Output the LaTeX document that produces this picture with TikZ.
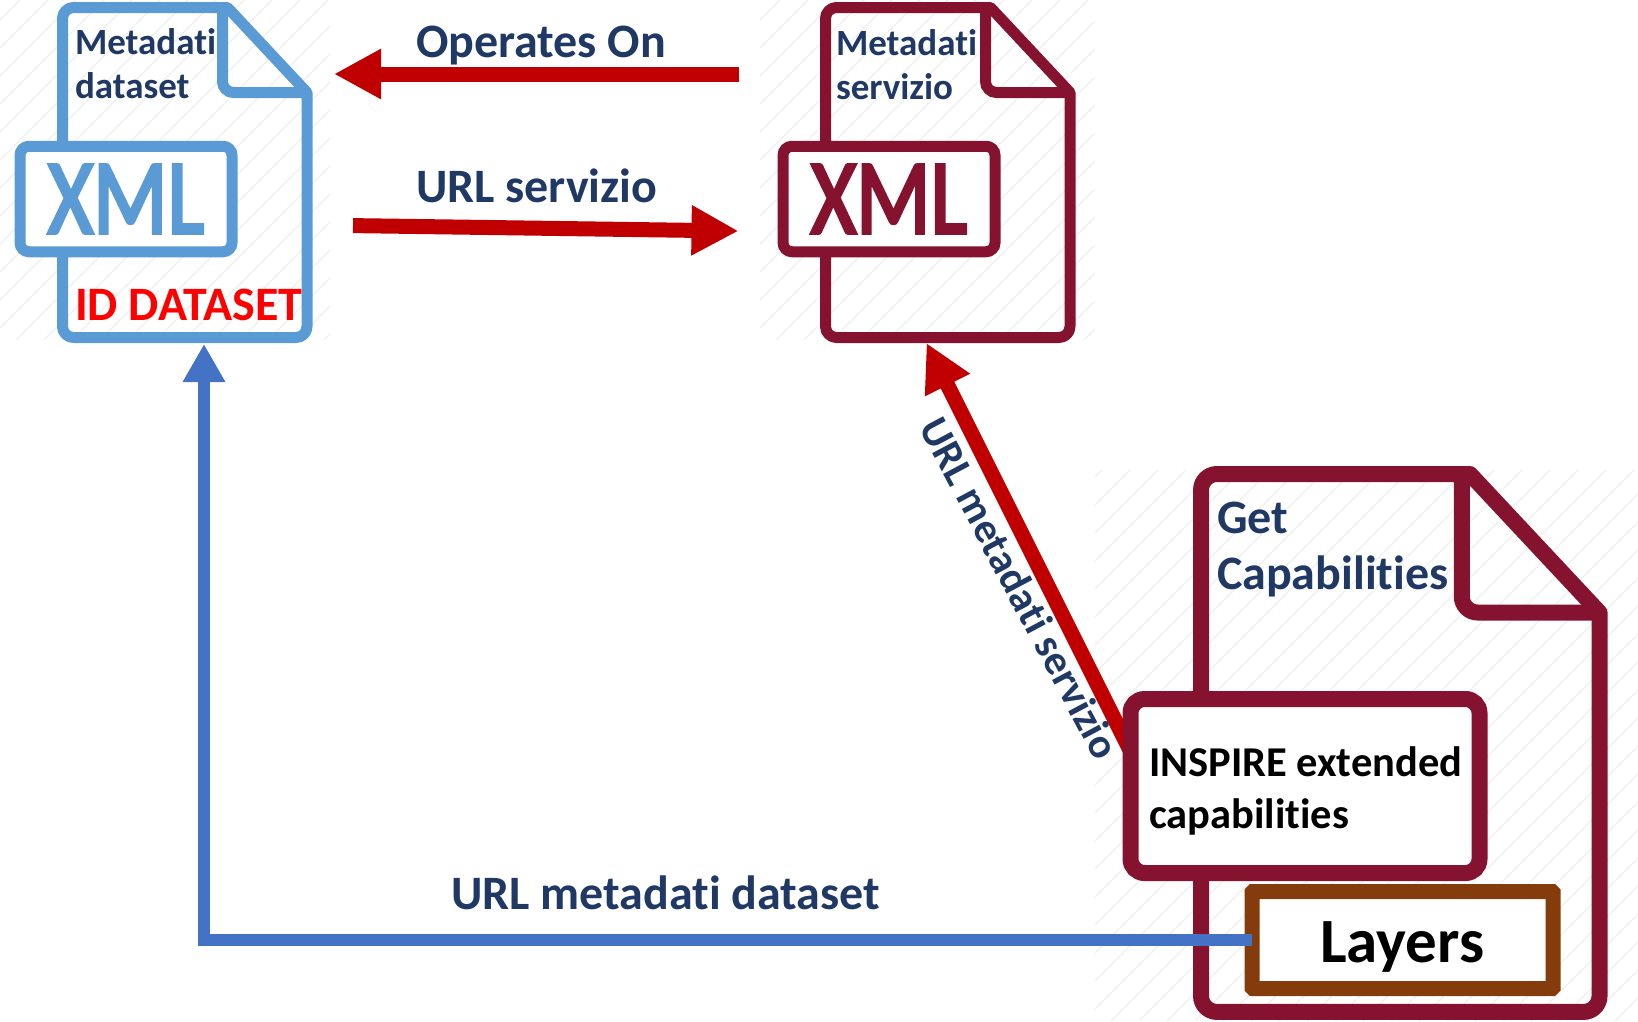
\documentclass[tikz,border=0pt]{standalone}
\usepackage{fontspec}
\setmainfont[Ligatures=NoCommon]{Carlito}
\newfontfamily\xmlfont[FakeBold=3.5]{Carlito}
\usetikzlibrary{arrows.meta}
\definecolor{fileblue}{HTML}{5B9BD5}
\definecolor{filered}{HTML}{85132F}
\definecolor{linkred}{HTML}{C00000}
\definecolor{linkblue}{HTML}{4472C4}
\definecolor{layerbrown}{HTML}{843C0C}
\definecolor{labelnavy}{HTML}{1F3864}
\tikzset{
  every node/.style={inner sep=0pt,outer sep=0pt},
  hatchline/.style={black!5,line width=1.5pt},
  label/.style={anchor=base west,text=labelnavy,font=\bfseries\fontsize{#1}{#1}\selectfont},
  blacklabel/.style={anchor=base west,text=black,font=\bfseries\fontsize{#1}{#1}\selectfont},
  xmlbox/.style={draw=#1,text=#1,fill=white,line width=11pt,rounded corners=9pt,
    minimum width=212pt,minimum height=105.5pt,font=\xmlfont\fontsize{106}{106}\selectfont},
  redlink/.style={draw=linkred,line width=15pt,-{Triangle[length=47pt,width=47pt]}},
  bluelink/.style={draw=linkblue,line width=12.5pt,-{Triangle[length=38pt,width=40pt]}},
  pics/docfile/.style 2 args={code={
    \draw[#1,line width=#2pt,rounded corners=#2pt,line join=round]
      (0,139) -- (0,0) [sharp corners] -- (165,0) -- (244.5,85)
      [rounded corners=#2pt] -- (244.5,330) -- (0,330) -- (0,244.5);
    \draw[#1,line width=#2pt,rounded corners=#2pt] (160,0) -- (160,85) -- (244.5,85);
  }}
}
\begin{document}
\begin{tikzpicture}[x=1pt,y=-1pt]
  \useasboundingbox (0,0) rectangle (1638,1021);

  % faint hatching behind the three files
  \foreach \xa/\ya/\xb/\yb in {0/0/330/340,760/0/1095/340,1095/470/1638/1021}{
    \begin{scope}
      \clip (\xa,\ya) rectangle (\xb,\yb);
      \foreach \d in {0,28,...,1400}
        \draw[hatchline] (\xa+\d-600,\yb) -- (\xa+\d,\yb-600);
    \end{scope}
  }

  \pic at (62.5,7.5) {docfile={fileblue}{11}};
  \pic at (825.5,7.5) {docfile={filered}{11}};
  \pic[scale=1.63] at (1201,474) {docfile={filered}{16}};

  \coordinate (opfrom) at (738.5,74);
  \coordinate (opto) at (334,74);
  \coordinate (urlfrom) at (353,225.6);
  \coordinate (urlto) at (738.5,231);
  \coordinate (capfrom) at (1135,760);
  \coordinate (capto) at (926.5,343);
  \coordinate (dataup) at (204,344);

  \draw[redlink] (opfrom) -- (opto);
  \draw[redlink] (urlfrom) -- (urlto);
  \draw[redlink] (capfrom) -- (capto);

  \node[xmlbox=fileblue] (xmlblue) at (126,199) {\scalebox{.82}[1]{XML}};
  \node[xmlbox=filered] (xmlred) at (889,199) {\scalebox{.82}[1]{XML}};
  \node[draw=filered,fill=white,line width=16pt,rounded corners=14pt,
    minimum width=349pt,minimum height=174pt] (inspire) at (1305,786) {};
  \node[draw=layerbrown,fill=white,line width=15pt,rounded corners=1pt,
    minimum width=301pt,minimum height=97pt] (layers) at (1402.5,940) {};

  \draw[bluelink] (layers.west) -| (dataup);

  \node[label=37] (metaone) at (75,54) {Metadati};
  \node[label=37] (dataname) at (75,98) {dataset};
  \node[label=37] (metatwo) at (836,55) {Metadati};
  \node[label=37] (servname) at (836,99) {servizio};
  \node[anchor=base west,text=red,font=\bfseries\fontsize{48}{48}\selectfont] (iddata) at (75,320) {ID DATASET};
  \node[label=48] (oplabel) at (416,57) {Operates On};
  \node[label=48] (urllabel) at (416,202) {URL servizio};
  \node[label=48] (metalabel) at (451,909) {URL metadati dataset};
  \node[label=42,anchor=center,rotate=-62] (caplabel) at (1020,588) {URL metadati servizio};
  \node[label=48] (getlabel) at (1217,533) {Get};
  \node[label=48] (capslabel) at (1217,589) {Capabilities};
  \node[blacklabel=42.5] (inspone) at (1149,776) {INSPIRE extended};
  \node[blacklabel=42.5] (insptwo) at (1149,828) {capabilities};
  \node[blacklabel=63] (layerlabel) at (1320,962) {Layers};
\end{tikzpicture}
\end{document}
